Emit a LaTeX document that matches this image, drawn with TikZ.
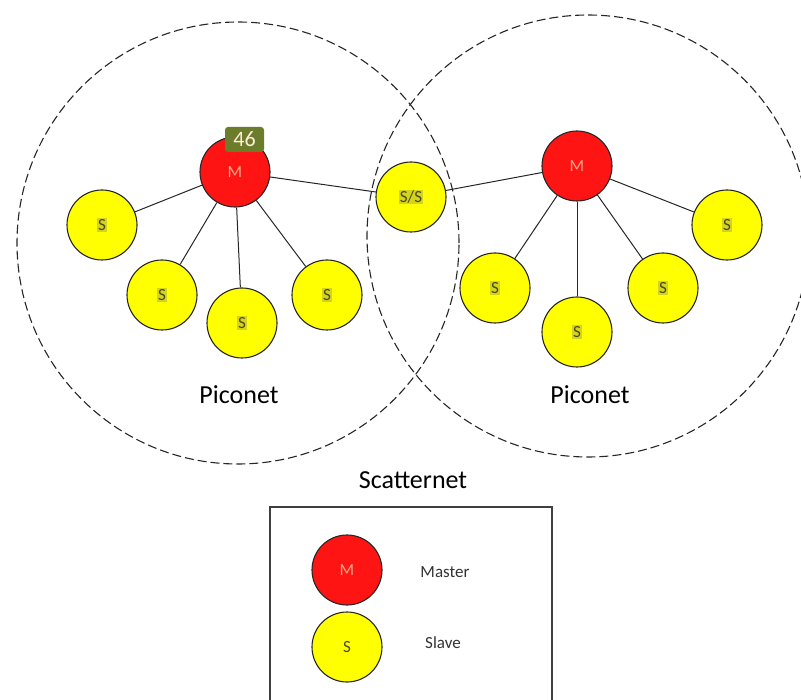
\documentclass[tikz,border=0pt]{standalone}
\usepackage{fontspec}
\setmainfont{Carlito}
\usetikzlibrary{positioning}

\definecolor{masterred}{HTML}{FF1414}
\definecolor{slaveyellow}{HTML}{FFFF00}
\definecolor{slavemark}{HTML}{D4D41E}
\definecolor{slavetext}{HTML}{4A4A18}
\definecolor{mastertext}{HTML}{F2A98A}
\definecolor{badgegreen}{HTML}{6B7D2A}

\newcommand{\smark}[1]{{\setlength{\fboxsep}{1pt}\colorbox{slavemark}{#1}}}

\begin{document}
\begin{tikzpicture}[
    x=1pt, y=-1pt,
    master/.style={
        circle,
        draw=black!85,
        line width=1.1pt,
        fill=masterred,
        minimum size=70pt,
        inner sep=0pt,
        text=mastertext,
        font=\fontsize{17}{19}\selectfont
    },
    slave/.style={
        circle,
        draw=black!85,
        line width=1.1pt,
        fill=slaveyellow,
        minimum size=70pt,
        inner sep=0pt,
        text=slavetext,
        font=\fontsize{17}{19}\selectfont
    },
    piconet/.style={
        circle,
        draw=black!85,
        line width=1.1pt,
        dash pattern=on 9pt off 4pt,
        minimum size=442pt,
        inner sep=0pt
    },
    badge/.style={
        rectangle,
        rounded corners=3pt,
        fill=badgegreen,
        text=white!85!orange,
        minimum width=39pt,
        minimum height=25pt,
        inner sep=0pt,
        font=\fontsize{22}{24}\selectfont
    },
    netlabel/.style={font=\fontsize{26}{30}\selectfont},
    legendtext/.style={font=\fontsize{17}{19}\selectfont, text=black!80},
    link/.style={draw=black!85, line width=1pt}
]

\useasboundingbox (0,0) rectangle (801,700);

% Piconet areas
\node [piconet] (left net) at (238,243) {};
\node [piconet] (right net) at (588,236) {};

% Left piconet
\node [master] (m1) at (235,172) {M};
\node [slave] (s11) at (102,225) {\smark{S}};
\node [slave] (s12) at (162,295) {\smark{S}};
\node [slave] (s13) at (242,323) {\smark{S}};
\node [slave] (s14) at (327,295) {\smark{S}};

% Bridge node
\node [slave] (bridge) at (411,197) {\smark{S/S}};

% Right piconet
\node [master] (m2) at (577,166) {M};
\node [slave] (s21) at (495,288) {\smark{S}};
\node [slave] (s22) at (577,332) {\smark{S}};
\node [slave] (s23) at (663,288) {\smark{S}};
\node [slave] (s24) at (727,225) {\smark{S}};

% Page mark
\node [badge] (page mark) at (244.5,139.5) {46};

% Labels
\node [netlabel] (left label) at (239,395) {Piconet};
\node [netlabel] (right label) at (590,395) {Piconet};
\node [netlabel] (scatter label) at (413,480) {Scatternet};

% Connections
\foreach \s in {s11,s12,s13,s14,bridge}
    \draw [link] (m1) -- (\s);
\foreach \s in {bridge,s21,s22,s23,s24}
    \draw [link] (m2) -- (\s);

% Legend
\node [draw=black!75, line width=1.3pt, minimum width=282pt, minimum height=200pt] (legend) at (411,607) {};
\node [master] (legend master) at (347,570) {M};
\node [slave] (legend slave) at (347,647) {S};
\node [legendtext] (master text) at (445,572) {Master};
\node [legendtext] (slave text) at (443,643) {Slave};

\end{tikzpicture}
\end{document}
